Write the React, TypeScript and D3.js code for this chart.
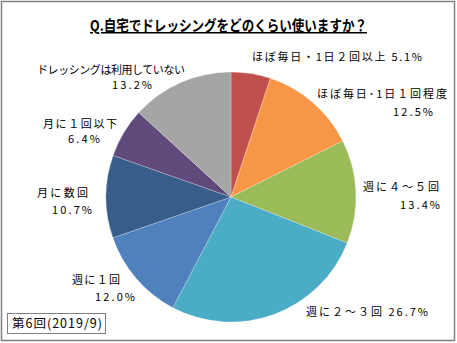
import React from "react";
import * as d3 from "d3";

const categories = [
  "ほぼ毎日・1日２回以上",
  "ほぼ毎日･1日１回程度",
  "週に４～５回",
  "週に２～３回",
  "週に１回",
  "月に数回",
  "月に１回以下",
  "ドレッシングは利用していない",
];
const values = [5.1, 12.5, 13.4, 26.7, 12.0, 10.7, 6.4, 13.2];
const colors = ["#C0504D", "#F79646", "#9BBB59", "#4BACC6", "#4F81BD", "#385D8A", "#604A7B", "#A5A5A5"];

const W = 457;
const H = 343;
const cx = 231;
const cy = 197;
const R = 125;

type Line = { text: string; x: number; y: number; w: number };
type Lab = { lines: Line[] };

const FONT = "'Noto Sans CJK JP', 'Noto Sans', sans-serif";

export default function App() {
  const pie = d3.pie<number>().sort(null).value((d) => d)(values);
  const arc = d3.arc<d3.PieArcDatum<number>>().innerRadius(0).outerRadius(R);
  const fmt = (v: number) => v.toFixed(1) + "%";

  const labels: Lab[] = [
    { lines: [{ text: categories[0] + " " + fmt(values[0]), x: 252, y: 61, w: 170 }] },
    {
      lines: [
        { text: categories[1], x: 317, y: 98, w: 130 },
        { text: fmt(values[1]), x: 393, y: 116, w: 40 },
      ],
    },
    {
      lines: [
        { text: categories[2], x: 363, y: 191, w: 76 },
        { text: fmt(values[2]), x: 400, y: 209, w: 40 },
      ],
    },
    { lines: [{ text: categories[3] + " " + fmt(values[3]), x: 306, y: 316, w: 122 }] },
    {
      lines: [
        { text: categories[4], x: 72, y: 284, w: 48 },
        { text: fmt(values[4]), x: 95, y: 301, w: 40 },
      ],
    },
    {
      lines: [
        { text: categories[5], x: 37, y: 197, w: 51 },
        { text: fmt(values[5]), x: 52, y: 214, w: 40 },
      ],
    },
    {
      lines: [
        { text: categories[6], x: 43, y: 128, w: 74 },
        { text: fmt(values[6]), x: 68, y: 143, w: 32 },
      ],
    },
    {
      lines: [
        { text: categories[7], x: 37, y: 74, w: 148 },
        { text: fmt(values[7]), x: 112, y: 89, w: 40 },
      ],
    },
  ];

  return (
    <svg width={W} height={H} style={{ position: "absolute", left: 0, top: 0 }} fontFamily={FONT}>
      <rect x={0} y={0} width={W} height={H} fill="#fff" />
      <rect x={1.5} y={1.5} width={453} height={339} fill="#fff" stroke="#808080" strokeWidth={1.5} />
      <text
        x={90}
        y={31}
        fontSize={15}
        fontWeight="bold"
        fill="#000"
        textDecoration="underline"
        textLength={277}
        lengthAdjust="spacingAndGlyphs"
      >
        Q.自宅でドレッシングをどのくらい使いますか？
      </text>
      <g transform={`translate(${cx},${cy})`}>
        {pie.map((p, i) => (
          <path key={i} d={arc(p) || ""} fill={colors[i]} stroke="#ffffff" strokeOpacity={0.35} strokeWidth={0.7} />
        ))}
      </g>
      {labels.map((l, i) =>
        l.lines.map((ln, j) => (
          <text
            key={i + "-" + j}
            x={ln.x}
            y={ln.y}
            fontSize={11}
            fill="#000"
            textLength={ln.w}
            lengthAdjust="spacing"
          >
            {ln.text}
          </text>
        ))
      )}
      <rect x={7.5} y={313.5} width={98} height={20} fill="#fff" stroke="#808080" strokeWidth={1} />
      <text x={12} y={328} fontSize={12.5} fill="#000" textLength={90} lengthAdjust="spacing">
        第6回(2019/9)
      </text>
    </svg>
  );
}
